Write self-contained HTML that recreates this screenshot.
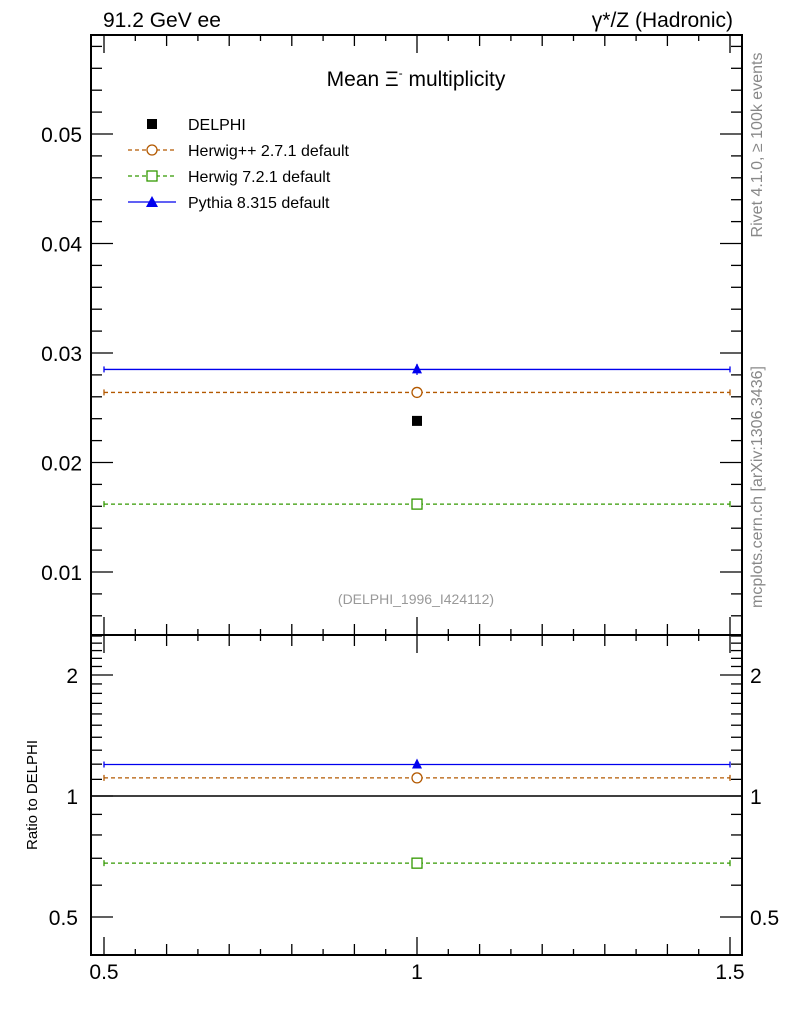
<!DOCTYPE html>
<html><head><meta charset="utf-8">
<style>
html,body{margin:0;padding:0;background:#fff;}
svg{display:block;font-family:"Liberation Sans",sans-serif;}
</style></head>
<body>
<svg id="chart" width="786" height="1024" viewBox="0 0 786 1024" xmlns="http://www.w3.org/2000/svg">
<text x="103" y="27" font-size="21">91.2 GeV ee</text>
<text x="733" y="27" font-size="21" text-anchor="end">γ*/Z (Hadronic)</text>
<text x="416" y="86" font-size="21" text-anchor="middle">Mean Ξ<tspan font-size="12" dy="-9">-</tspan><tspan dy="9"> multiplicity</tspan></text>
<text transform="translate(762,145) rotate(-90)" font-size="16" fill="#888" text-anchor="middle">Rivet 4.1.0, ≥ 100k events</text>
<text transform="translate(762,487) rotate(-90)" font-size="16" fill="#888" text-anchor="middle">mcplots.cern.ch [arXiv:1306.3436]</text>
<text x="416" y="604" font-size="14" fill="#999" text-anchor="middle">(DELPHI_1996_I424112)</text>
<text transform="translate(37,795) rotate(-90)" font-size="15" text-anchor="middle">Ratio to DELPHI</text>
<g id="legend">
 <g><rect x="147" y="119" width="10" height="10" fill="#000"/><text x="188" y="130" font-size="16">DELPHI</text></g>
 <g><line x1="128" y1="150" x2="176" y2="150" stroke="#b35900" stroke-width="1.3" stroke-dasharray="4,3"/><circle cx="152" cy="150" r="5" fill="#fff" stroke="#b35900" stroke-width="1.3"/><text x="188" y="156" font-size="16">Herwig++ 2.7.1 default</text></g>
 <g><line x1="128" y1="176" x2="176" y2="176" stroke="#339900" stroke-width="1.3" stroke-dasharray="4,3"/><rect x="147" y="171" width="10" height="10" fill="#fff" stroke="#339900" stroke-width="1.3"/><text x="188" y="182" font-size="16">Herwig 7.2.1 default</text></g>
 <g><line x1="128" y1="202" x2="176" y2="202" stroke="#0000ee" stroke-width="1.3"/><polygon points="152,196 158,207 146,207" fill="#0000ee"/><text x="188" y="208" font-size="16">Pythia 8.315 default</text></g>
</g>
<g id="plots"></g>
</svg>
<script>
const categories = [1.0];
const binLow = [0.5];
const binHigh = [1.5];
const delphiValues = [0.0238];
const herwigppValues = [0.0264];
const herwig7Values = [0.0162];
const pythiaValues = [0.0285];
const pythiaErr = [0.0005];
const mainTicks = [0.01, 0.02, 0.03, 0.04, 0.05];
const mainTickLabels = ["0.01", "0.02", "0.03", "0.04", "0.05"];
const ratioTicks = [0.5, 1, 2];
const ratioTickLabels = ["0.5", "1", "2"];
const xTicks = [0.5, 1, 1.5];
const xTickLabels = ["0.5", "1", "1.5"];

const NS = "http://www.w3.org/2000/svg";
const L = 91, R = 742, T = 35, M = 635, B = 955;
const xs = v => 104 + (v - 0.5) * 626;
const ym = v => 134 - (v - 0.05) * 10950;
const yr = v => 796 - Math.log10(v) * 402;
const g = document.getElementById('plots');
function el(tag, attrs, parent) {
  const e = document.createElementNS(NS, tag);
  for (const k in attrs) e.setAttribute(k, attrs[k]);
  (parent || g).appendChild(e);
  return e;
}
let f1 = el('rect', {x: L, y: T, width: R - L, height: M - T, fill: 'none', stroke: '#000', 'stroke-width': 2});


let f2 = el('rect', {x: L, y: M, width: R - L, height: B - M, fill: 'none', stroke: '#000', 'stroke-width': 2});


// x ticks
for (let k = 0; k <= 20; k++) {
  const v = 0.5 + k * 0.05;
  const len = (k % 10 === 0) ? 18 : (k % 2 === 0 ? 11 : 6);
  const x = xs(v);
  [T, M].forEach(y0 => el('line', {x1: x, x2: x, y1: y0, y2: y0 + len, stroke: '#000', 'stroke-width': 1.3}));
  [M, B].forEach(y0 => el('line', {x1: x, x2: x, y1: y0, y2: y0 - len, stroke: '#000', 'stroke-width': 1.3}));
}
xTicks.forEach((v, i) => {
  const t = el('text', {x: xs(v), y: 979, 'font-size': 21, 'text-anchor': 'middle'});
  t.textContent = xTickLabels[i];
  
  
});
// main y ticks: minor every 0.002
for (let k = 3; k <= 29; k++) {
  const v = k * 0.002;
  const major = k % 5 === 0;
  const len = major ? 22 : 11;
  const y = ym(v);
  if (y < T || y > M) continue;
  el('line', {x1: L, x2: L + len, y1: y, y2: y, stroke: '#000', 'stroke-width': 1.3});
  el('line', {x1: R, x2: R - len, y1: y, y2: y, stroke: '#000', 'stroke-width': 1.3});
}
mainTicks.forEach((v, i) => {
  const t = el('text', {x: 82, y: ym(v) + 8, 'font-size': 21, 'text-anchor': 'end'});
  t.textContent = mainTickLabels[i];
  
  
});
// ratio y ticks (log)
for (let k = 4; k <= 25; k++) {
  const v = k / 10;
  const major = ratioTicks.some(r => Math.abs(r - v) < 1e-6);
  const len = major ? 22 : 11;
  const y = yr(v);
  if (y < M || y > B) continue;
  el('line', {x1: L, x2: L + len, y1: y, y2: y, stroke: '#000', 'stroke-width': 1.3});
  el('line', {x1: R, x2: R - len, y1: y, y2: y, stroke: '#000', 'stroke-width': 1.3});
}
ratioTicks.forEach((v, i) => {
  const t = el('text', {x: 78, y: yr(v) + 8, 'font-size': 21, 'text-anchor': 'end'});
  t.textContent = ratioTickLabels[i];
  
  
  const t2 = el('text', {x: 750, y: yr(v) + 8, 'font-size': 21});
  t2.textContent = ratioTickLabels[i];
  
  
});
let ref = el('line', {x1: L, x2: R, y1: yr(1), y2: yr(1), stroke: '#000', 'stroke-width': 1.5});



function series(vals, color, dash, marker, name, ymap, ratio) {
  categories.forEach((c, i) => {
    const v = ratio ? vals[i] / delphiValues[i] : vals[i];
    const y = ymap(v);
    const x1 = xs(binLow[i]), x2 = xs(binHigh[i]), x = xs(c);
    const ln = el('line', {x1: x1, x2: x2, y1: y, y2: y, stroke: color, 'stroke-width': 1.3});
    if (dash) ln.setAttribute('stroke-dasharray', '4,3');
    
    
    el('line', {x1: x1, x2: x1, y1: y - 3, y2: y + 3, stroke: color, 'stroke-width': 1.3});
    el('line', {x1: x2, x2: x2, y1: y - 3, y2: y + 3, stroke: color, 'stroke-width': 1.3});
    let m;
    if (marker === 'circle') m = el('circle', {cx: x, cy: y, r: 5, fill: '#fff', stroke: color, 'stroke-width': 1.3});
    else if (marker === 'square') m = el('rect', {x: x - 5, y: y - 5, width: 10, height: 10, fill: '#fff', stroke: color, 'stroke-width': 1.3});
    else {
      if (!ratio) {
        el('line', {x1: x, x2: x, y1: ymap(v + pythiaErr[i]), y2: ymap(v - pythiaErr[i]), stroke: color, 'stroke-width': 1.3});
      }
      m = el('polygon', {points: `${x},${y - 6} ${x + 5},${y + 4} ${x - 5},${y + 4}`, fill: color});
    }
    
    
  });
}
series(herwig7Values, '#339900', true, 'square', 'herwig7', ym, false);
series(herwigppValues, '#b35900', true, 'circle', 'herwigpp', ym, false);
series(pythiaValues, '#0000ee', false, 'triangle', 'pythia', ym, false);
categories.forEach((c, i) => {
  const d = el('rect', {x: xs(c) - 5, y: ym(delphiValues[i]) - 5, width: 10, height: 10, fill: '#000'});
  
  
});
series(herwig7Values, '#339900', true, 'square', 'ratio-herwig7', yr, true);
series(herwigppValues, '#b35900', true, 'circle', 'ratio-herwigpp', yr, true);
series(pythiaValues, '#0000ee', false, 'triangle', 'ratio-pythia', yr, true);
</script>
</body></html>
